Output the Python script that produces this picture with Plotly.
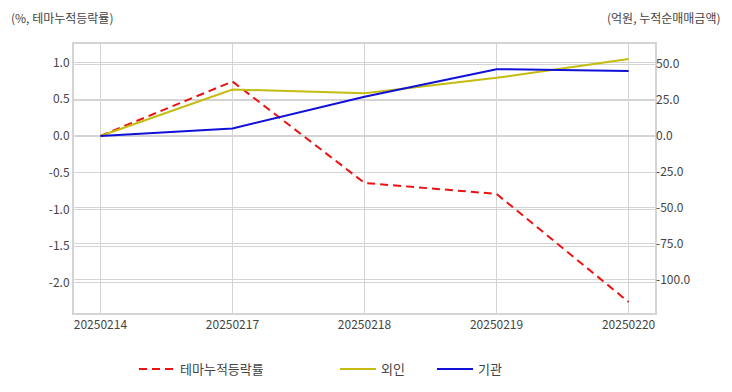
import plotly.graph_objects as go

dates = ["20250214", "20250217", "20250218", "20250219", "20250220"]
theme_cum = [0.0, 0.74, -0.64, -0.79, -2.26]
foreign = [0.0, 32.4, 29.7, 40.5, 53.5]
institution = [0.0, 5.3, 27.3, 46.5, 45.3]

left_ticks = [1.0, 0.5, 0.0, -0.5, -1.0, -1.5, -2.0]
left_ticktext = ["1.0", "0.5", "0.0", "-0.5", "-1.0", "-1.5", "-2.0"]
right_ticks = [50, 25, 0, -25, -50, -75, -100]
right_ticktext = ["50.0", "25.0", "0.0", "-25.0", "-50.0", "-75.0", "-100.0"]

FONT = "Noto Sans CJK KR"
GRID = "#d4d4d4"
TXT = "#444444"

fig = go.Figure()
fig.add_trace(go.Scatter(x=dates, y=theme_cum, name="테마누적등락률", mode="lines",
                         line=dict(color="#ee1111", width=2, dash="8px,5px"),
                         yaxis="y", legend="legend"))
fig.add_trace(go.Scatter(x=dates, y=foreign, name="외인", mode="lines",
                         line=dict(color="#c4bc10", width=2),
                         yaxis="y2", legend="legend2"))
fig.add_trace(go.Scatter(x=dates, y=institution, name="기관", mode="lines",
                         line=dict(color="#1010d8", width=2),
                         yaxis="y2", legend="legend2"))

# page body has an 8px margin, so figure coords = screen coords - 8
W, H = 724, 384
L, T = 66, 36
R, B = W - 647, H - 305
plot_w = W - L - R
plot_h = H - T - B

fig.update_layout(
    width=W, height=H,
    margin=dict(l=L, r=R, t=T, b=B, autoexpand=False),
    paper_bgcolor="white", plot_bgcolor="white",
    font=dict(family=FONT, size=12, color=TXT),
    showlegend=True,
    xaxis=dict(type="category", range=[-0.2, 4.2], showgrid=True, gridcolor=GRID,
               gridwidth=1, showline=True, linecolor=GRID, linewidth=2, mirror=True,
               ticks="", tickfont=dict(size=12, color=TXT), zeroline=False),
    yaxis=dict(range=[-2.41, 1.25], tickvals=left_ticks, ticktext=left_ticktext,
               showgrid=True, gridcolor=GRID, gridwidth=1, zeroline=False,
               showline=True, linecolor=GRID, linewidth=2, mirror=True,
               ticks="", tickfont=dict(size=12, color=TXT)),
    yaxis2=dict(range=[-123, 64], overlaying="y", side="right",
                tickvals=right_ticks, ticktext=right_ticktext,
                showgrid=True, gridcolor=GRID, gridwidth=1, zeroline=False,
                ticks="", tickfont=dict(size=12, color=TXT)),
    legend=dict(orientation="h", x=(126 - L) / plot_w, y=-56 / plot_h,
                xanchor="left", yanchor="middle", itemwidth=36,
                font=dict(size=13, color=TXT), bgcolor="rgba(0,0,0,0)"),
    legend2=dict(orientation="h", x=(327 - L) / plot_w, y=-56 / plot_h,
                 xanchor="left", yanchor="middle", entrywidth=46, itemwidth=36,
                 font=dict(size=13, color=TXT), bgcolor="rgba(0,0,0,0)"),
    annotations=[
        dict(text="(%, 테마누적등락률)", xref="paper", yref="paper",
             x=(2 - L) / plot_w, y=1 + T / plot_h, borderpad=0,
             xanchor="left", yanchor="top", showarrow=False,
             font=dict(size=12, color=TXT)),
        dict(text="(억원, 누적순매매금액)", xref="paper", yref="paper",
             x=(714 - L) / plot_w, y=1 + T / plot_h, borderpad=0,
             xanchor="right", yanchor="top", showarrow=False,
             font=dict(size=12, color=TXT)),
    ],
)

fig.write_html("out.html")
